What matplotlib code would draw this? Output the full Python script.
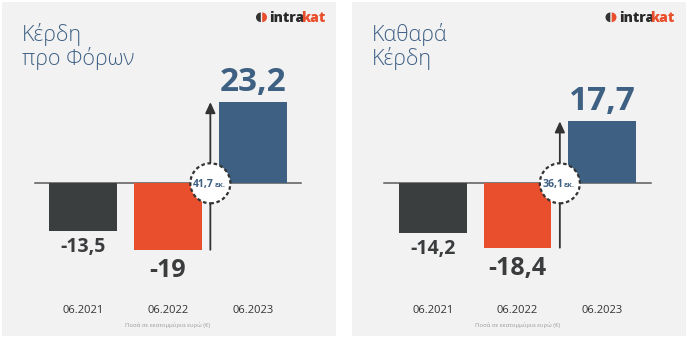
import matplotlib
matplotlib.use('Agg')
import matplotlib.pyplot as plt
from matplotlib.patches import Rectangle, Ellipse, Wedge
import matplotlib.transforms as mtrans

plt.rcParams['font.family'] = ['Open Sans', 'DejaVu Sans']

# ---------------- data ----------------
periods = ['06.2021', '06.2022', '06.2023']
pretax_profit = [-13.5, -19.0, 23.2]
net_profit = [-14.2, -18.4, 17.7]
change_values = [41.7, 36.1]
titles = [['Κέρδη', 'προ Φόρων'], ['Καθαρά', 'Κέρδη']]
footnote = 'Ποσά σε εκατομμύρια ευρώ (€)'
change_unit = 'εκ.'
logo_parts = ['intra', 'kat']

# ---------------- styles ----------------
W, H = 689, 342
panel_bg = '#f2f2f2'
bar_colors = ['#3b3e3f', '#ea4f2d', '#3e6082']
label_colors = ['#3a3c3d', '#3a3c3d', '#3e6082']
label_sizes = [14, 18, 24]
label_offsets_px = [21, 27, 11]
title_color = '#3f6185'
blue = '#3e6082'
dark = '#333333'
orange = '#ea4f2d'


def fmt(v):
    s = f'{v:.1f}'.replace('.', ',')
    if s.endswith(',0'):
        s = s[:-2]
    return s


fig = plt.figure(figsize=(W / 100, H / 100), dpi=100)
fig.patch.set_facecolor('white')
bg = fig.add_axes([0, 0, 1, 1])
bg.set_xlim(0, W)
bg.set_ylim(H, 0)
bg.axis('off')
renderer = fig.canvas.get_renderer()

panel_x0 = [2, 351.5]
panel_top, panel_bot, panel_w = 2, 336, 334
c0_off = 81.3      # px from panel left to first bar centre
spacing = 84.7     # px per category
zero_y = 183.3     # px
scale = 3.5        # px per unit

datasets = [pretax_profit, net_profit]

for p, x0 in enumerate(panel_x0):
    values = datasets[p]
    bg.add_patch(Rectangle((x0, panel_top), panel_w, panel_bot - panel_top,
                           facecolor=panel_bg, edgecolor='none', zorder=0))
    # title
    bg.text(x0 + 20, 41, titles[p][0], fontsize=15.5, color=title_color,
            fontweight='light', va='baseline', ha='left')
    bg.text(x0 + 20, 65.5, titles[p][1], fontsize=15.5, color=title_color,
            fontweight='light', va='baseline', ha='left')
    # logo
    cx, cy, r = x0 + 259.5, 17.3, 4.8
    bg.add_patch(Wedge((cx - 0.7, cy), r, 90, 270, facecolor=dark, edgecolor='none'))
    bg.add_patch(Wedge((cx + 0.7, cy), r, 270, 90, facecolor=orange, edgecolor='none'))
    lx = x0 + 267.5
    t1 = bg.text(lx, 21.9, logo_parts[0], fontsize=10, fontweight='heavy',
                 color='#2a2a2a', va='baseline', ha='left')
    bb = t1.get_window_extent(renderer=renderer)
    x_end = bg.transData.inverted().transform((bb.x1, bb.y0))[0]
    bg.text(x_end - 4.0, 21.9, logo_parts[1], fontsize=10, fontweight='heavy',
            color=orange, va='baseline', ha='left')

    # panel axes in data coordinates
    ax = fig.add_axes([x0 / W, (H - panel_bot) / H, panel_w / W,
                       (panel_bot - panel_top) / H])
    ax.set_xlim(-c0_off / spacing, (panel_w - c0_off) / spacing)
    ax.set_ylim(-(panel_bot - zero_y) / scale, (zero_y - panel_top) / scale)
    ax.axis('off')
    ax.patch.set_alpha(0)

    x = list(range(len(values)))
    n = len(values)
    ax.plot([-0.575, n - 1 + 0.575], [0, 0], color='#5a5a5a', lw=1.1, zorder=1)
    ax.bar(x, values, width=0.8, color=bar_colors, zorder=2)

    for i, v in enumerate(values):
        off = label_offsets_px[i] * 0.72
        ax.annotate(fmt(v), xy=(i, v), xytext=(0, off if v > 0 else -off),
                    textcoords='offset points', ha='center', va='baseline',
                    fontsize=label_sizes[i], fontweight='bold',
                    color=label_colors[i])

    # arrow from orange bar bottom to blue bar top
    ax.annotate('', xy=(1.5, values[2]), xytext=(1.5, values[1]),
                arrowprops=dict(arrowstyle='-|>,head_length=0.65,head_width=0.3',
                                color=dark, lw=1.3, shrinkA=0, shrinkB=0),
                zorder=3)
    ax.add_patch(Ellipse((1.5, 0), 40 / spacing, 40 / scale, facecolor='white',
                         edgecolor=dark, lw=1.6, linestyle=(0, (1.6, 1.2)),
                         zorder=4))
    ax.annotate(fmt(change_values[p]), xy=(1.5, 0), xytext=(2.8, -2.7),
                textcoords='offset points', ha='right', va='baseline',
                fontsize=7.6, fontweight='bold', color=blue, zorder=5)
    ax.annotate(change_unit, xy=(1.5, 0), xytext=(3.0, -2.7),
                textcoords='offset points', ha='left', va='baseline',
                fontsize=5.4, fontweight='bold', color=blue, zorder=5)

    # category labels
    trans = mtrans.blended_transform_factory(ax.transData, ax.transAxes)
    for i, lab in enumerate(periods):
        ax.text(i, (panel_bot - 313) / (panel_bot - panel_top), lab,
                transform=trans, ha='center', va='baseline', fontsize=8,
                color='#333333')
    ax.text(1, (panel_bot - 325) / (panel_bot - panel_top), footnote,
            transform=trans, ha='center', va='center', fontsize=4.2,
            color='#9a9a9a')

fig.savefig('out.png', dpi=100, facecolor='white')
